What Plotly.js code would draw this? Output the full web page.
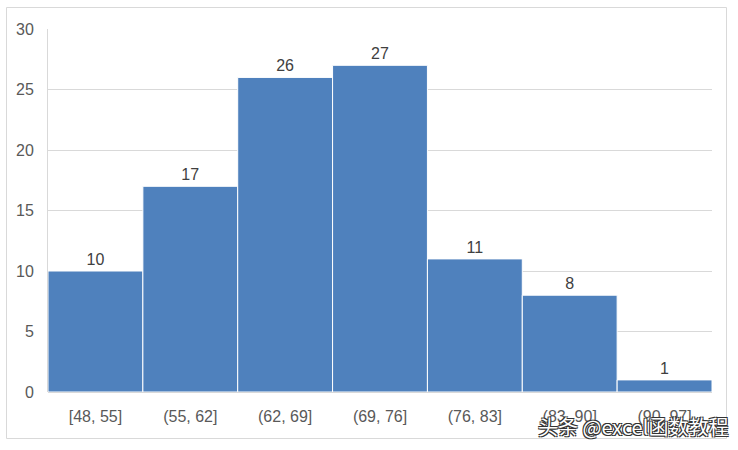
<!DOCTYPE html>
<html>
<head>
<meta charset="utf-8">
<script src="https://cdn.plot.ly/plotly-3.0.1.min.js"></script>
<style>
  html, body { margin: 0; padding: 0; background: #fff; }
  #chart { width: 738px; height: 450px; }
</style>
</head>
<body>
<div id="chart"></div>
<script>
const categories = ["[48, 55]", "(55, 62]", "(62, 69]", "(69, 76]", "(76, 83]", "(83, 90]", "(90, 97]"];
const counts = [10, 17, 26, 27, 11, 8, 1];
const yTicks = [0, 5, 10, 15, 20, 25, 30];
const watermark = "头条 @excel函数教程";

const trace = {
  type: "bar",
  x: categories,
  y: counts,
  text: counts.map(String),
  textposition: "outside",
  cliponaxis: false,
  textfont: { family: "Liberation Sans, Arial, sans-serif", size: 16, color: "#404040" },
  marker: { color: "#4F81BD", line: { color: "#ffffff", width: 1 } },
  hoverinfo: "x+y"
};

const layout = {
  width: 738,
  height: 450,
  margin: { l: 48, r: 26, t: 29, b: 58 },
  paper_bgcolor: "#ffffff",
  plot_bgcolor: "#ffffff",
  bargap: 0,
  showlegend: false,
  font: { family: "Liberation Sans, Arial, sans-serif", size: 16, color: "#595959" },
  xaxis: {
    type: "category",
    showgrid: false,
    showline: false,
    ticks: "",
    ticklen: 0,
    ticklabelstandoff: 13,
    tickfont: { size: 16, color: "#595959" },
    fixedrange: true
  },
  yaxis: {
    range: [0, 30],
    tickvals: yTicks,
    ticktext: yTicks.map(String),
    showgrid: true,
    gridcolor: "#d9d9d9",
    gridwidth: 1,
    zeroline: true,
    zerolinecolor: "#d9d9d9",
    showline: true,
    linecolor: "#d9d9d9",
    linewidth: 1,
    ticks: "",
    ticklabelstandoff: 10,
    tickfont: { size: 16, color: "#595959" },
    fixedrange: true
  },
  shapes: [{
    type: "rect",
    xref: "paper", yref: "paper",
    x0: (6.5 - 48) / 664, x1: (726.5 - 48) / 664,
    y0: (392 - 438.5) / 363, y1: (392 - 7.5) / 363,
    line: { color: "#d9d9d9", width: 1 },
    fillcolor: "rgba(0,0,0,0)",
    layer: "below"
  }],
  annotations: [{
    xref: "paper", yref: "paper",
    x: (730 - 48) / 664, y: (392 - 443) / 363,
    xanchor: "right", yanchor: "bottom",
    text: watermark,
    showarrow: false,
    font: {
      family: "Noto Sans CJK SC, sans-serif",
      size: 20,
      color: "#ffffff",
      shadow: "1px 1px 0 #333, -1px -1px 0 #333, 1px -1px 0 #333, -1px 1px 0 #333"
    }
  }]
};

Plotly.newPlot("chart", [trace], layout, { displayModeBar: false, staticPlot: true });
</script>
</body>
</html>
